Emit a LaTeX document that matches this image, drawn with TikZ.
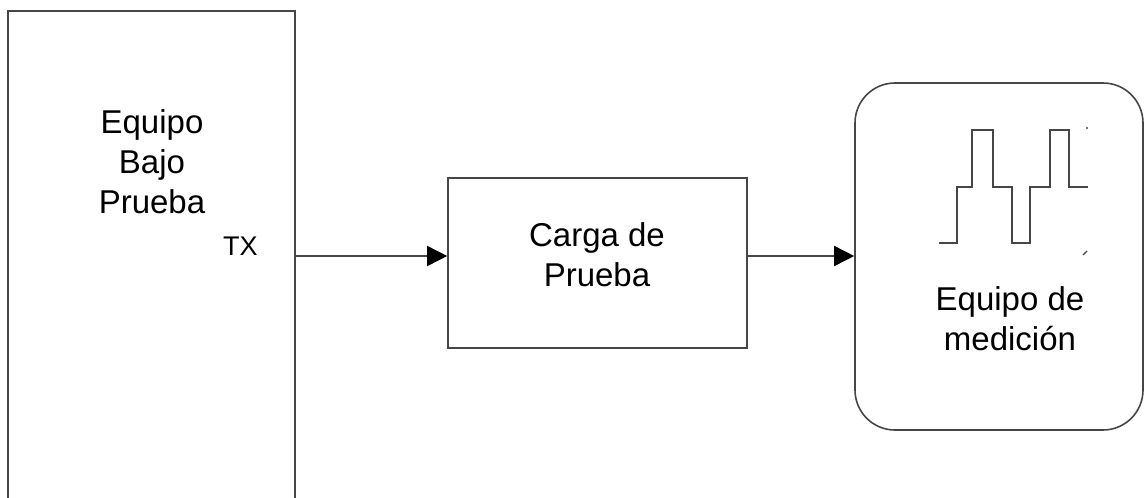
\documentclass[tikz,border=0pt]{standalone}
\usepackage{fontspec}
\setmainfont{Liberation Sans}
\usetikzlibrary{arrows.meta}
\definecolor{linec}{RGB}{70,70,70}
\tikzset{
  box/.style={draw=linec, line width=1.6pt, inner sep=0pt},
  lbl/.style={font=\fontsize{33}{40}\selectfont, align=center, text=black},
  conn/.style={draw=linec, line width=1.6pt, -{Triangle[length=20pt,width=20pt,color=black,fill=black]}},
  wave/.style={draw=linec, line width=1.6pt}
}
\begin{document}
\begin{tikzpicture}[x=1pt,y=-1pt]
\useasboundingbox (0,0) rectangle (1146,498);
\clip (0,0) rectangle (1146,498);
\fill[white] (0,0) rectangle (1146,498);
% boxes
\node[box, minimum width=287pt, minimum height=529pt] (dut) at (151.5,275.5) {};
\node[box, minimum width=299pt, minimum height=170pt] (carga) at (597.5,263) {};
\node[box, rounded corners=40pt, minimum width=288pt, minimum height=347pt] (med) at (999,256.5) {};
% labels
\node[lbl] (dutlbl) at (152,162) {Equipo\\Bajo\\Prueba};
\node[font=\fontsize{27}{32}\selectfont, anchor=base west, inner sep=0pt] (tx) at (223,255) {TX};
\node[lbl] (cargalbl) at (597,255) {Carga de\\Prueba};
\node[lbl] (medlbl) at (1010,319) {Equipo de\\medición};
% connectors
\coordinate (dutout) at (dut.east |- 0,256);
\draw[conn] (dutout) -- (carga.west |- dutout);
\draw[conn] (carga.east |- dutout) -- (med.west |- dutout);
% waveform
\draw[wave] (939,243) -- (957,243) -- (957,187) -- (972,187) -- (972,130) -- (993,130)
  -- (993,187) -- (1012,187) -- (1012,243) -- (1030,243) -- (1030,187) -- (1050,187)
  -- (1050,130) -- (1069,130) -- (1069,187) -- (1088,187);
\fill[linec] (1087,128) circle (1.2pt);
\draw[linec, line width=1.2pt] (1083,255) -- (1087,251);
\end{tikzpicture}
\end{document}
